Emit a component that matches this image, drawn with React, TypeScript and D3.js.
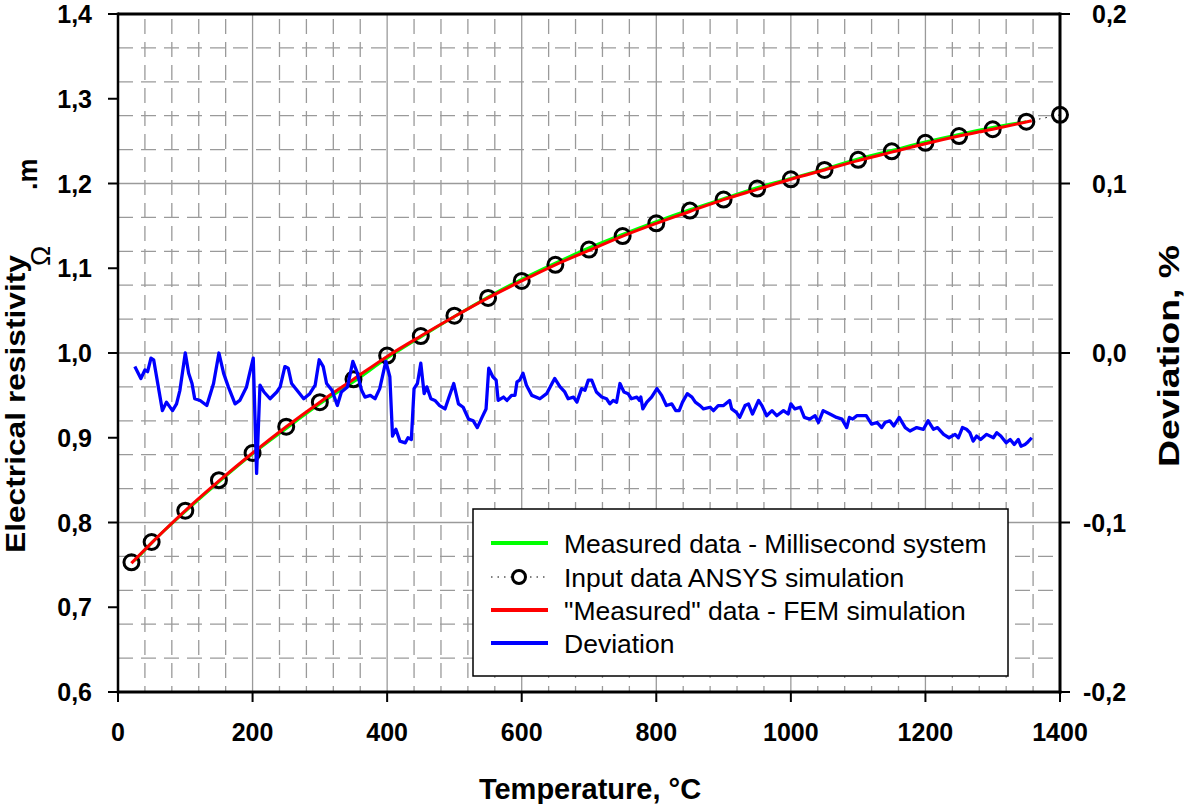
import React from "react";
import * as d3 from "d3";

// ---------- data ----------
const circleT = [20, 50, 100, 150, 200, 250, 300, 350, 400, 450, 500, 550, 600, 650, 700, 750, 800, 850, 900, 950, 1000, 1050, 1100, 1150, 1200, 1250, 1300, 1350, 1400];
const circleRho = [0.753, 0.777, 0.814, 0.85, 0.882, 0.913, 0.942, 0.969, 0.997, 1.02, 1.044, 1.065, 1.085, 1.104, 1.122, 1.138, 1.153, 1.168, 1.181, 1.194, 1.205, 1.216, 1.228, 1.238, 1.248, 1.256, 1.264, 1.273, 1.281];

const femT = [20, 50, 100, 150, 200, 250, 300, 350, 400, 450, 500, 550, 600, 650, 700, 750, 800, 850, 900, 950, 1000, 1050, 1100, 1150, 1200, 1250, 1300, 1358];
const femRho = [0.752, 0.776, 0.814, 0.849, 0.882, 0.913, 0.942, 0.969, 0.996, 1.02, 1.043, 1.065, 1.085, 1.104, 1.121, 1.138, 1.153, 1.167, 1.181, 1.193, 1.205, 1.216, 1.227, 1.237, 1.247, 1.256, 1.264, 1.274];

const measT = [25, 50, 100, 150, 200, 250, 300, 350, 400, 450, 500, 550, 600, 650, 700, 750, 800, 850, 900, 950, 1000, 1050, 1100, 1150, 1200, 1250, 1300, 1350];
const measRho = [0.755, 0.776, 0.813, 0.848, 0.881, 0.911, 0.94, 0.966, 0.994, 1.019, 1.043, 1.066, 1.087, 1.106, 1.124, 1.14, 1.155, 1.169, 1.182, 1.195, 1.206, 1.217, 1.229, 1.239, 1.249, 1.258, 1.266, 1.273];

const devT = [25, 34, 40, 44, 49, 53, 66, 72, 81, 87, 92, 100, 105, 110, 114, 122, 132, 142, 150, 157, 164, 174, 181, 191, 195, 201, 206, 211, 217, 226, 236, 241, 248, 253, 258, 266, 276, 285, 293, 299, 305, 310, 318, 326, 332, 341, 349, 355, 362, 367, 375, 382, 389, 398, 404, 408, 413, 419, 427, 431, 436, 440, 445, 450, 455, 459, 465, 471, 478, 486, 492, 499, 506, 513, 521, 528, 534, 541, 547, 551, 557, 562, 565, 573, 578, 585, 590, 593, 597, 602, 607, 615, 627, 637, 645, 649, 657, 664, 669, 677, 682, 689, 694, 699, 704, 711, 719, 726, 731, 736, 741, 746, 752, 758, 763, 771, 775, 777, 780, 786, 793, 801, 808, 815, 823, 829, 834, 839, 846, 853, 858, 865, 870, 880, 885, 892, 900, 909, 912, 919, 924, 932, 937, 943, 952, 957, 964, 972, 979, 989, 996, 1000, 1006, 1014, 1020, 1028, 1036, 1041, 1048, 1058, 1068, 1076, 1083, 1087, 1092, 1098, 1105, 1112, 1120, 1128, 1135, 1140, 1147, 1153, 1161, 1170, 1177, 1187, 1197, 1204, 1212, 1218, 1227, 1235, 1244, 1249, 1255, 1261, 1266, 1271, 1276, 1282, 1291, 1301, 1306, 1312, 1320, 1326, 1332, 1338, 1342, 1348, 1351, 1358];
const devV = [-0.008, -0.015, -0.01, -0.011, -0.003, -0.004, -0.034, -0.029, -0.034, -0.03, -0.022, 0.0, -0.012, -0.018, -0.027, -0.028, -0.031, -0.018, 0.0, -0.012, -0.02, -0.03, -0.028, -0.02, -0.013, -0.003, -0.071, -0.019, -0.023, -0.027, -0.023, -0.02, -0.008, -0.009, -0.018, -0.022, -0.027, -0.024, -0.019, -0.004, -0.008, -0.018, -0.022, -0.031, -0.023, -0.02, -0.005, -0.011, -0.022, -0.026, -0.025, -0.027, -0.021, -0.005, -0.014, -0.049, -0.045, -0.052, -0.053, -0.05, -0.051, -0.021, -0.018, -0.006, -0.024, -0.02, -0.027, -0.028, -0.031, -0.033, -0.026, -0.018, -0.03, -0.032, -0.039, -0.04, -0.044, -0.038, -0.033, -0.009, -0.014, -0.016, -0.028, -0.026, -0.028, -0.025, -0.025, -0.017, -0.016, -0.012, -0.019, -0.025, -0.027, -0.024, -0.018, -0.015, -0.02, -0.023, -0.027, -0.026, -0.029, -0.021, -0.022, -0.016, -0.016, -0.023, -0.026, -0.027, -0.03, -0.028, -0.029, -0.018, -0.023, -0.024, -0.027, -0.026, -0.028, -0.026, -0.033, -0.029, -0.026, -0.021, -0.025, -0.031, -0.03, -0.034, -0.034, -0.029, -0.024, -0.026, -0.029, -0.031, -0.033, -0.032, -0.034, -0.031, -0.031, -0.028, -0.033, -0.035, -0.038, -0.031, -0.03, -0.036, -0.028, -0.031, -0.037, -0.034, -0.037, -0.034, -0.036, -0.03, -0.033, -0.032, -0.038, -0.039, -0.037, -0.041, -0.034, -0.036, -0.038, -0.039, -0.044, -0.038, -0.039, -0.037, -0.037, -0.037, -0.042, -0.041, -0.044, -0.041, -0.04, -0.043, -0.038, -0.044, -0.046, -0.044, -0.045, -0.04, -0.045, -0.044, -0.048, -0.05, -0.048, -0.05, -0.044, -0.045, -0.047, -0.052, -0.049, -0.051, -0.048, -0.05, -0.047, -0.049, -0.053, -0.051, -0.054, -0.051, -0.055, -0.054, -0.053, -0.05];

const xTickValues = [0, 200, 400, 600, 800, 1000, 1200, 1400];
const xTickLabels = ["0", "200", "400", "600", "800", "1000", "1200", "1400"];
const yLeftTickValues = [0.6, 0.7, 0.8, 0.9, 1.0, 1.1, 1.2, 1.3, 1.4];
const yLeftTickLabels = ["0,6", "0,7", "0,8", "0,9", "1,0", "1,1", "1,2", "1,3", "1,4"];
const yRightTickValues = [-0.2, -0.1, 0.0, 0.1, 0.2];
const yRightTickLabels = ["-0,2", "-0,1", "0,0", "0,1", "0,2"];
const legendLabels = [
  "Measured data - Millisecond system",
  "Input data ANSYS simulation",
  "\"Measured\" data - FEM simulation",
  "Deviation",
];

// ---------- layout ----------
const W = 1188;
const H = 804;
const L = 118, R = 1060, T = 14, B = 692;
const FONT = "'Liberation Sans', Arial, Helvetica, sans-serif";

export default function App() {
  const x = d3.scaleLinear().domain([0, 1400]).range([L, R]);
  const yL = d3.scaleLinear().domain([0.6, 1.4]).range([B, T]);
  const yR = d3.scaleLinear().domain([-0.2, 0.2]).range([B, T]);

  const xMinor = d3.range(0, 1400.001, 40).filter((v) => v % 200 !== 0);
  const xMajor = d3.range(200, 1200.001, 200);
  const yMinor = d3.range(-0.2, 0.2001, 0.02).map((v) => Math.round(v * 1000) / 1000).filter((v) => Math.abs(Math.round(v * 100) % 10) !== 0);
  const yMajor = [-0.1, 0.0, 0.1];

  const lineL = d3.line<[number, number]>().x((d) => x(d[0])).y((d) => yL(d[1])).curve(d3.curveMonotoneX);
  const lineR = d3.line<[number, number]>().x((d) => x(d[0])).y((d) => yR(d[1]));
  const lineStraight = d3.line<[number, number]>().x((d) => x(d[0])).y((d) => yL(d[1]));

  const meas = measT.map((t, i) => [t, measRho[i]] as [number, number]);
  const fem = femT.map((t, i) => [t, femRho[i]] as [number, number]);
  const circ = circleT.map((t, i) => [t, circleRho[i]] as [number, number]);
  const dev = devT.map((t, i) => [t, devV[i]] as [number, number]);

  const gridColor = "#9a9a9a";
  const legX = 473, legY = 509, legW = 535, legH = 167;
  const rowY = [543, 577, 610, 643];

  return (
    <svg width={W} height={H} style={{ position: "absolute", left: 0, top: 0, background: "#fff" }} fontFamily={FONT}>
      <rect x={0} y={0} width={W} height={H} fill="#fff" />
      {/* grid */}
      <g>
        {xMinor.map((v) => (
          <line key={"xm" + v} x1={x(v)} x2={x(v)} y1={T + 5} y2={B} stroke={gridColor} strokeWidth={1.3} strokeDasharray="15,8" />
        ))}
        {yMinor.map((v) => (
          <line key={"ym" + v} x1={L} x2={R} y1={yR(v)} y2={yR(v)} stroke={gridColor} strokeWidth={1.3} strokeDasharray="15,8" />
        ))}
        {xMajor.map((v) => (
          <line key={"xM" + v} x1={x(v)} x2={x(v)} y1={T} y2={B} stroke={gridColor} strokeWidth={1.3} />
        ))}
        {yMajor.map((v) => (
          <line key={"yM" + v} x1={L} x2={R} y1={yR(v)} y2={yR(v)} stroke={gridColor} strokeWidth={1.3} />
        ))}
      </g>

      {/* axes frame */}
      <line x1={L} x2={R} y1={T} y2={T} stroke="#000" strokeWidth={3} />
      <line x1={L} x2={R + 1.5} y1={B} y2={B} stroke="#000" strokeWidth={3} />
      <line x1={L} x2={L} y1={T - 1.5} y2={B + 1.5} stroke="#000" strokeWidth={2.5} />
      <line x1={R} x2={R} y1={T - 1.5} y2={B + 1.5} stroke="#000" strokeWidth={3} />

      {/* left ticks */}
      {yLeftTickValues.map((v, i) => (
        <g key={"yl" + i}>
          <line x1={L - 10} x2={L} y1={yL(v)} y2={yL(v)} stroke="#000" strokeWidth={2} />
          <text x={92} y={yL(v) + 9} textAnchor="end" fontSize={25} fontWeight="bold">{yLeftTickLabels[i]}</text>
        </g>
      ))}
      {/* right ticks */}
      {yRightTickValues.map((v, i) => (
        <g key={"yr" + i}>
          <line x1={R} x2={R + 10} y1={yR(v)} y2={yR(v)} stroke="#000" strokeWidth={2} />
          <text x={i < 2 ? 1083 : 1092} y={yR(v) + 9} textAnchor="start" fontSize={25} fontWeight="bold">{yRightTickLabels[i]}</text>
        </g>
      ))}
      {/* bottom ticks */}
      {xTickValues.map((v, i) => (
        <g key={"xt" + i}>
          <line x1={x(v)} x2={x(v)} y1={B} y2={B + 10} stroke="#000" strokeWidth={2} />
          <text x={x(v)} y={741} textAnchor="middle" fontSize={25} fontWeight="bold">{xTickLabels[i]}</text>
        </g>
      ))}

      {/* axis titles */}
      <text x={590} y={799} textAnchor="middle" fontSize={29} fontWeight="bold">Temperature, °C</text>
      <text transform="translate(1179,356) rotate(-90)" textAnchor="middle" fontSize={29} fontWeight="bold" textLength={222} lengthAdjust="spacingAndGlyphs">Deviation, %</text>
      <text transform="translate(25,553) rotate(-90)" textAnchor="start" fontSize={27} fontWeight="bold" textLength={298} lengthAdjust="spacingAndGlyphs">Electrical resistivity</text>
      <text transform="translate(50,266) rotate(-90)" textAnchor="start" fontSize={27}>Ω</text>
      <text transform="translate(37,190) rotate(-90)" textAnchor="start" fontSize={27} fontWeight="bold">.m</text>

      {/* series */}
      <path d={lineL(meas) || ""} fill="none" stroke="#00ff00" strokeWidth={3} />
      <path d={lineStraight(circ) || ""} fill="none" stroke="#000" strokeWidth={1} strokeDasharray="1.5,5" />
      {circ.map((d, i) => (
        <circle key={"c" + i} cx={x(d[0])} cy={yL(d[1])} r={7.5} fill="none" stroke="#000" strokeWidth={3} />
      ))}
      <path d={lineL(fem) || ""} fill="none" stroke="#ff0000" strokeWidth={3} />
      <path d={lineR(dev) || ""} fill="none" stroke="#0000ff" strokeWidth={3.3} strokeLinejoin="round" />

      {/* legend */}
      <rect x={legX} y={legY} width={legW} height={legH} fill="#fff" stroke="#000" strokeWidth={1.5} />
      <line x1={491} x2={548} y1={rowY[0]} y2={rowY[0]} stroke="#00ff00" strokeWidth={4} />
      <line x1={491} x2={548} y1={rowY[1]} y2={rowY[1]} stroke="#000" strokeWidth={1} strokeDasharray="1.5,5" />
      <circle cx={519} cy={rowY[1]} r={6.5} fill="#fff" stroke="#000" strokeWidth={3} />
      <line x1={491} x2={548} y1={rowY[2]} y2={rowY[2]} stroke="#ff0000" strokeWidth={4} />
      <line x1={491} x2={548} y1={rowY[3]} y2={rowY[3]} stroke="#0000ff" strokeWidth={4} />
      {legendLabels.map((s, i) => (
        <text key={"lg" + i} x={564} y={rowY[i] + 9.5} fontSize={26.5}>{s}</text>
      ))}
    </svg>
  );
}
